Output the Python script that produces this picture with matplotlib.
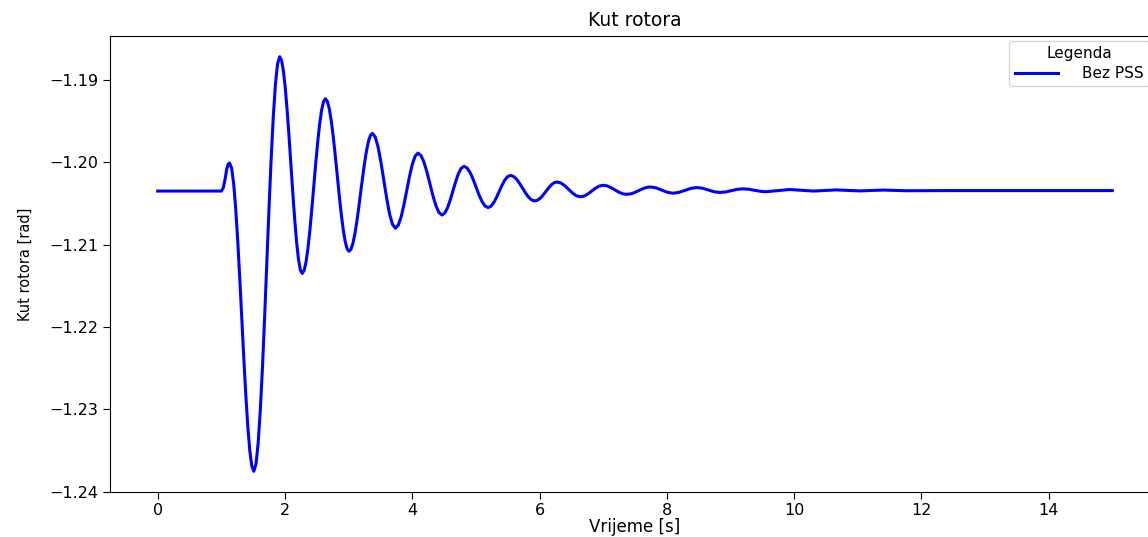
import matplotlib
matplotlib.use("Agg")
import matplotlib.pyplot as plt

# Time [s] and rotor angle [rad]
time_s = [
    0.0, 1.00, 1.03, 1.06, 1.085, 1.11,
    1.13, 1.1617, 1.1933, 1.225, 1.2567, 1.2883, 1.32, 1.3517, 1.3833, 1.415, 1.4467, 1.4783,
    1.51, 1.5439, 1.5778, 1.6118, 1.6457, 1.6796, 1.7135, 1.7474, 1.7813, 1.8153, 1.8492, 1.8831,
    1.917, 1.9464, 1.9758, 2.0053, 2.0347, 2.0641, 2.0935, 2.1229, 2.1523, 2.1818, 2.2112, 2.2406,
    2.27, 2.3004, 2.3308, 2.3613, 2.3917, 2.4221, 2.4525, 2.4829, 2.5133, 2.5438, 2.5742, 2.6046,
    2.635, 2.6659, 2.6968, 2.7278, 2.7587, 2.7896, 2.8205, 2.8514, 2.8823, 2.9133, 2.9442, 2.9751,
    3.006, 3.0366, 3.0672, 3.0978, 3.1283, 3.1589, 3.1895, 3.2201, 3.2507, 3.2813, 3.3118, 3.3424,
    3.373, 3.4183, 3.4635, 3.5088, 3.554, 3.5993, 3.6445, 3.6898,
    3.735, 3.7794, 3.8238, 3.8681, 3.9125, 3.9569, 4.0013, 4.0456,
    4.09, 4.1371, 4.1843, 4.2314, 4.2785, 4.3256, 4.3728, 4.4199,
    4.467, 4.5103, 4.5535, 4.5968, 4.64, 4.6833, 4.7265, 4.7698,
    4.813, 4.8601, 4.9073, 4.9544, 5.0015, 5.0486, 5.0958, 5.1429,
    5.19, 5.234, 5.278, 5.322, 5.366, 5.41, 5.454, 5.498,
    5.542, 5.5898, 5.6375, 5.6853, 5.733, 5.7808, 5.8285, 5.8763,
    5.924, 5.9678, 6.0115, 6.0553, 6.099, 6.1428, 6.1865, 6.2303,
    6.274, 6.3353, 6.3967, 6.458, 6.5193, 6.5807,
    6.642, 6.7013, 6.7607, 6.82, 6.8793, 6.9387,
    6.998, 7.06, 7.122, 7.184, 7.246, 7.308,
    7.37, 7.432, 7.494, 7.556, 7.618, 7.68,
    7.742, 7.831, 7.92, 8.008,
    8.097, 8.191, 8.286, 8.38,
    8.474, 8.563, 8.652, 8.741,
    8.83, 8.922, 9.014, 9.105,
    9.197, 9.288, 9.379, 9.469,
    9.56, 9.745, 9.93, 10.115, 10.30,
    10.48, 10.66, 10.845, 11.03,
    11.215, 11.40, 11.585, 11.77,
    12.5, 15.0,
]
rotor_angle = [
    -1.2035, -1.2035, -1.2031, -1.2020, -1.2008, -1.2002,
    -1.2001, -1.20074, -1.20261, -1.20558, -1.20945, -1.21396, -1.2188, -1.22364, -1.22815, -1.23202, -1.2350, -1.23686,
    -1.2375, -1.23664, -1.23413, -1.23013, -1.22493, -1.21886, -1.21235, -1.20584, -1.19978, -1.19457, -1.19057, -1.18806,
    -1.1872, -1.18765, -1.18896, -1.19105, -1.19378, -1.19695, -1.20035, -1.20375, -1.20693, -1.20965, -1.21174, -1.21305,
    -1.2135, -1.21314, -1.21208, -1.2104, -1.2082, -1.20564, -1.2029, -1.20016, -1.1976, -1.19541, -1.19372, -1.19266,
    -1.1923, -1.19262, -1.19354, -1.19501, -1.19693, -1.19916, -1.20155, -1.20394, -1.20618, -1.20809, -1.20956, -1.21049,
    -1.2108, -1.21056, -1.20984, -1.20871, -1.20723, -1.2055, -1.20365, -1.2018, -1.20008, -1.19859, -1.19746, -1.19674,
    -1.1965, -1.19694, -1.19818, -1.20005, -1.20225, -1.20445, -1.20632, -1.20756,
    -1.2080, -1.20765, -1.20667, -1.20519, -1.20345, -1.20171, -1.20023, -1.19925,
    -1.1989, -1.19919, -1.2000, -1.20122, -1.20265, -1.20409, -1.2053, -1.20612,
    -1.2064, -1.20618, -1.20554, -1.20458, -1.20345, -1.20232, -1.20136, -1.20073,
    -1.2005, -1.20069, -1.20123, -1.20204, -1.2030, -1.20396, -1.20477, -1.20531,
    -1.2055, -1.20535, -1.20493, -1.2043, -1.20355, -1.2028, -1.20217, -1.20175,
    -1.2016, -1.20172, -1.20205, -1.20256, -1.20315, -1.20374, -1.20425, -1.20458,
    -1.2047, -1.20461, -1.20436, -1.20399, -1.20355, -1.20311, -1.20274, -1.20249,
    -1.2024, -1.20252, -1.20285, -1.2033, -1.20375, -1.20408,
    -1.2042, -1.20411, -1.20385, -1.2035, -1.20315, -1.20289,
    -1.2028, -1.20287, -1.20308, -1.20335, -1.20363, -1.20383,
    -1.2039, -1.20384, -1.20368, -1.20345, -1.20323, -1.20306,
    -1.2030, -1.20311, -1.20338, -1.20365,
    -1.20376, -1.20366, -1.20342, -1.20317,
    -1.20307, -1.20316, -1.20337, -1.20358,
    -1.20367, -1.20361, -1.20345, -1.20329,
    -1.20323, -1.20328, -1.2034, -1.20353,
    -1.20358, -1.20345, -1.20331, -1.2034, -1.2035,
    -1.20343, -1.20336, -1.20342, -1.20348,
    -1.20343, -1.20338, -1.20342, -1.20346,
    -1.20344, -1.20344,
]

x_ticks = [0, 2, 4, 6, 8, 10, 12, 14]
y_ticks = [-1.24, -1.23, -1.22, -1.21, -1.20, -1.19]
y_tick_labels = ["\u22121.24", "\u22121.23", "\u22121.22", "\u22121.21", "\u22121.20", "\u22121.19"]

title = "Kut rotora"
x_label = "Vrijeme [s]"
y_label = "Kut rotora [rad]"
legend_title = "Legenda"
series_label = "Bez PSS"

plt.rcParams['font.family'] = ['DejaVu Sans']

fig = plt.figure(figsize=(11.48, 5.37), dpi=100)
ax = fig.add_axes([110 / 1148, 45 / 537, 1050 / 1148, 456 / 537])

ax.plot(time_s, rotor_angle, color="blue", linewidth=2.2, label=series_label)

ax.set_xticks(x_ticks)
ax.set_yticks(y_ticks)
ax.set_yticklabels(y_tick_labels)
ax.tick_params(axis="both", labelsize=11.5, length=5)
ax.tick_params(axis="x", pad=3)

ax.set_title(title, fontsize=13.5, pad=7)
ax.set_xlabel(x_label, fontsize=12, labelpad=0)
ax.set_ylabel(y_label, fontsize=10.5, labelpad=12)

leg = ax.legend(title=legend_title, loc="upper right", bbox_to_anchor=(0.9895, 0.989),
                fontsize=11, title_fontsize=11,
                handlelength=2.8, handletextpad=1.6, labelspacing=0.3,
                borderaxespad=0.0, borderpad=0.35)

fig.savefig("out.png", dpi=100)
